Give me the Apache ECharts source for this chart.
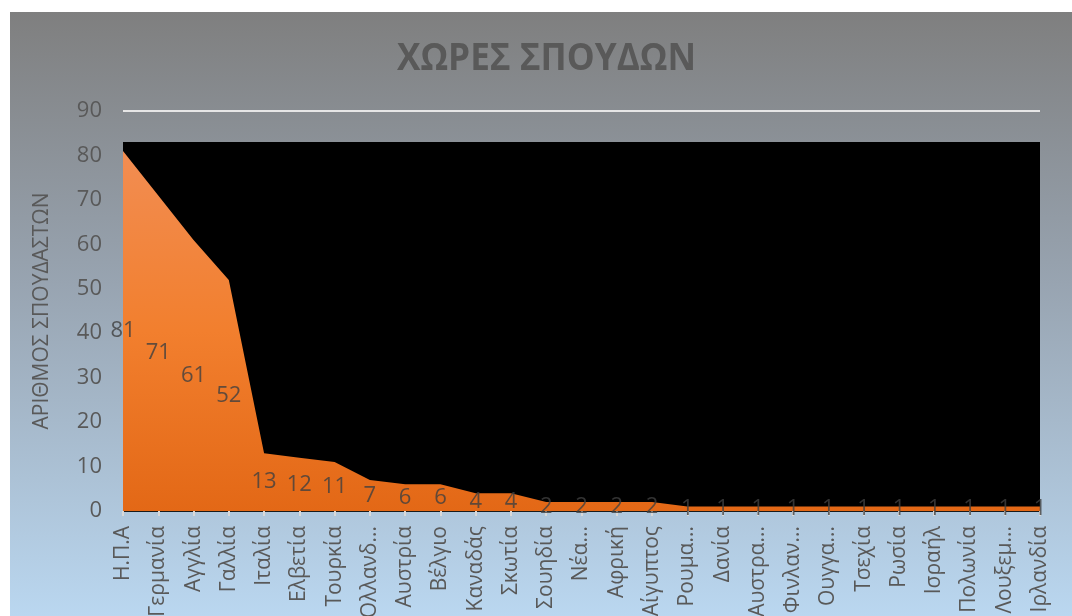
<!DOCTYPE html>
<html>
<head>
<meta charset="utf-8">
<script src="https://cdn.jsdelivr.net/npm/echarts@6/dist/echarts.min.js"></script>
<style>
html,body{margin:0;padding:0;background:#fff;width:1072px;height:616px;overflow:hidden;}
#chart{position:absolute;left:10px;top:12px;width:1062px;height:604px;}
</style>
</head>
<body>
<div id="chart"></div>
<script>
const categories = ["Η.Π.Α","Γερμανία","Αγγλία","Γαλλία","Ιταλία","Ελβετία","Τουρκία","Ολλανδ...","Αυστρία","Βέλγιο","Καναδάς","Σκωτία","Σουηδία","Νέα...","Αφρική","Αίγυπτος","Ρουμα...","Δανία","Αυστρα...","Φινλαν...","Ουγγα...","Τσεχία","Ρωσία","Ισραήλ","Πολωνία","Λουξεμ...","Ιρλανδία"];
const values = [81,71,61,52,13,12,11,7,6,6,4,4,2,2,2,2,1,1,1,1,1,1,1,1,1,1,1];
const yTicks = [0,10,20,30,40,50,60,70,80,90];
const titleText = "ΧΩΡΕΣ ΣΠΟΥΔΩΝ";
const yAxisName = "ΑΡΙΘΜΟΣ ΣΠΟΥΔΑΣΤΩΝ";

const chart = echarts.init(document.getElementById('chart'));
const font = 'Open Sans';
const labelPoints = values.map(v => v / 2);

// title font scaling to match the narrow bold face of the original
const titleFont = 'bold 38px "Open Sans"';
const cv = document.createElement('canvas').getContext('2d');
cv.font = titleFont;
const titleScale = 299 / cv.measureText(titleText).width;

chart.setOption({
  animation: false,
  backgroundColor: new echarts.graphic.LinearGradient(0,0,0,1,[
    {offset:0,color:'#7f7f7f'},
    {offset:0.45,color:'#98a4b1'},
    {offset:1,color:'#bad7f0'}
  ]),
  graphic: [{
    type:'text',
    x: 536.5,
    y: 47,
    scaleX: titleScale,
    z: 10,
    style: {
      text: titleText,
      font: titleFont,
      fill: '#595959',
      textAlign: 'center',
      textVerticalAlign: 'middle'
    }
  }],
  grid: {left:113, right:32, top:99, bottom:105, outerBoundsMode:'none', containLabel:false},
  xAxis: {
    type:'category',
    data: categories,
    boundaryGap:false,
    axisLine:{show:true, lineStyle:{color:'#1a1a1a', width:1}},
    axisTick:{show:true, alignWithLabel:true, length:5, lineStyle:{color:'#d9d9d9', width:2}},
    axisLabel:{rotate:90, interval:0, margin:15, fontFamily:font, fontSize:21, color:'#595959'},
    splitLine:{show:false}
  },
  yAxis: {
    type:'value',
    min:0, max:90, interval:10,
    name: yAxisName,
    nameLocation:'middle',
    nameGap:70,
    nameRotate:90,
    nameTextStyle:{fontFamily:font, fontSize:21, color:'#595959'},
    axisLine:{show:false},
    axisTick:{show:false},
    axisLabel:{fontFamily:font, fontSize:22, color:'#595959', margin:21,
      formatter: v => yTicks.includes(v) ? String(v) : ''},
    splitLine:{show:true, lineStyle:{color:'#e6e6e6', width:2}}
  },
  series: [
    {
      type:'line',
      data: [],
      z:1,
      silent:true,
      markArea:{
        silent:true,
        itemStyle:{color:'#000000', opacity:1},
        data:[[{xAxis:0, yAxis:0},{xAxis:categories.length-1, yAxis:83}]]
      }
    },
    {
      type:'line',
      data: values,
      z:3,
      symbol:'none',
      lineStyle:{width:0},
      areaStyle:{
        opacity:1,
        color:new echarts.graphic.LinearGradient(0,0,0,1,[
          {offset:0,color:'#f28d52'},
          {offset:0.5,color:'#f27f2e'},
          {offset:1,color:'#e36816'}
        ])
      }
    },
    {
      type:'scatter',
      data: labelPoints,
      z:5,
      symbolSize:1,
      itemStyle:{color:'rgba(0,0,0,0)'},
      label:{
        show:true,
        position:'inside',
        fontFamily:font,
        fontSize:22,
        color:'#404040',
        formatter: p => String(values[p.dataIndex])
      }
    }
  ]
});
</script>
</body>
</html>
